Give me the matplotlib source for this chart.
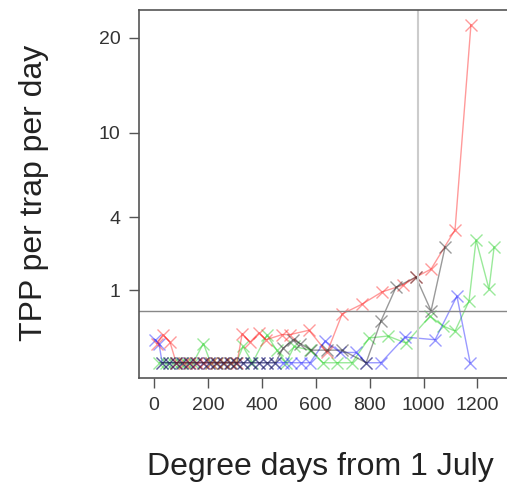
import numpy as np
import matplotlib.pyplot as plt

plt.rcParams['font.family'] = ['Liberation Sans', 'DejaVu Sans']

# degree days from 1 July and TPP per trap per day, four traps
red_dd = [11, 33, 59, 82, 110, 135, 160, 185, 210, 235, 260, 285, 308,
          327, 356, 390, 416, 475, 505, 575, 642, 698, 772, 846, 924, 972,
          1028, 1117, 1176]
red_val = [0.07, 0.15, 0.08, 0, 0, 0, 0, 0, 0, 0, 0, 0, 0,
           0.16, 0.08, 0.17, 0.10, 0.15, 0.15, 0.20, 0.02, 0.45, 0.65, 0.95,
           1.14, 1.39, 1.66, 3.34, 21.6]

black_dd = [30, 55, 80, 105, 130, 155, 180, 205, 230, 255, 280, 305, 330,
            360, 390, 420, 450, 479, 516, 542, 583, 640, 698, 787, 842, 898,
            972, 1028, 1080]
black_val = [0, 0, 0, 0, 0, 0, 0, 0, 0, 0, 0, 0, 0,
             0, 0, 0, 0, 0.04, 0.10, 0.07, 0.03, 0.03, 0.03, 0, 0.33, 1.08,
             1.39, 0.51, 2.53]

blue_dd = [5, 18, 30, 55, 80, 105, 130, 155, 180, 205, 230, 255, 280, 305,
           330, 360, 390, 420, 450, 480, 510, 545, 579, 635, 690, 750, 787,
           842, 931, 1043, 1124, 1173]
blue_val = [0.10, 0.07, 0, 0, 0, 0, 0, 0, 0, 0, 0, 0, 0, 0,
            0, 0, 0, 0, 0, 0, 0, 0, 0, 0.09, 0.02, 0.02, 0,
            0, 0.125, 0.10, 0.84, 0]

green_dd = [20, 45, 70, 95, 120, 145, 183, 210, 235, 260, 285, 305, 330,
            365, 419, 455, 490, 520, 579, 627, 680, 735, 798, 868, 935, 1024,
            1072, 1117, 1169, 1195, 1243, 1262]
green_val = [0, 0, 0, 0, 0, 0, 0.07, 0, 0, 0, 0, 0, 0.05,
             0, 0.145, 0.03, 0, 0.05, 0.03, 0, 0, 0, 0.116, 0.135, 0.073, 0.41,
             0.256, 0.19, 0.72, 2.85, 1.03, 2.53]

ytick_vals = [1, 4, 10, 20]
xtick_vals = [0, 200, 400, 600, 800, 1000, 1200]
threshold = 0.5
cutoff_dd = 980

fig = plt.figure(figsize=(5.07, 4.87), dpi=100)
ax = fig.add_axes([139 / 507, 109 / 487, 371 / 507, 368 / 487])

series = [(green_dd, green_val, '#20d020'),
          (blue_dd, blue_val, '#2020ff'),
          (red_dd, red_val, '#ff2020'),
          (black_dd, black_val, '#202020')]
for dd, val, col in series:
    ax.plot(dd, np.sqrt(val), color=col, alpha=0.45, lw=1.0,
            marker='x', ms=9, mew=1.0)

ax.axhline(np.sqrt(threshold), color='#888888', lw=1.0)
ax.axvline(cutoff_dd, color='#cccccc', lw=1.5)

ax.set_xlim(-56, 1321)
ax.set_ylim(-0.21, 4.853)
ax.set_yticks(np.sqrt(ytick_vals))
ax.set_yticklabels([str(v) for v in ytick_vals])
ax.set_xticks(xtick_vals)

for s in ['left', 'top', 'bottom']:
    ax.spines[s].set_color('#555555')
    ax.spines[s].set_linewidth(1.2)
ax.spines['right'].set_visible(False)
ax.tick_params(colors='#555555', labelcolor='#333333', labelsize=14,
               length=7.5, width=1.0, pad=6)

fig.text(34 / 507, 1 - 193 / 487, 'TPP per trap per day', rotation=90,
         ha='center', va='center', fontsize=23, color='#222222')
fig.text(320 / 507, 1 - 467 / 487, 'Degree days from 1 July',
         ha='center', va='center', fontsize=23, color='#222222')

fig.savefig('out.png', dpi=100)
